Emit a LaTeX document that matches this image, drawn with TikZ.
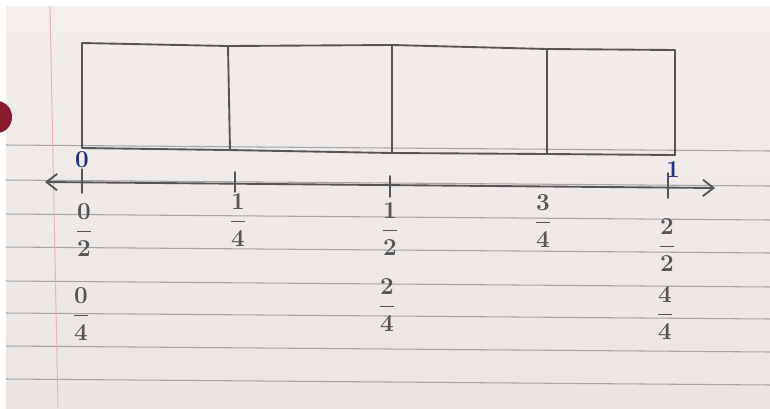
\documentclass[tikz,border=0pt]{standalone}
\usepackage{amsmath}
\usetikzlibrary{arrows.meta}
\definecolor{paper}{HTML}{E9E6E4}
\definecolor{paperlight}{HTML}{F1EEEC}
\definecolor{pencil}{HTML}{555555}
\definecolor{ruling}{HTML}{A5A5A7}
\definecolor{margin}{HTML}{EBB0B6}
\definecolor{hole}{HTML}{8A1A2E}
\definecolor{ink}{HTML}{25307E}
\tikzset{
  pen/.style={pencil,line width=1.6pt,line cap=round,line join=round},
  frac/.style={text=pencil,font=\huge\boldmath,inner sep=1pt},
  mark0/.style={text=ink,font=\huge\bfseries,inner sep=0pt}
}
\begin{document}
\begin{tikzpicture}[x=0.03cm,y=-0.03cm]
  \useasboundingbox (0,0) rectangle (770,408);
  % papier
  \fill[white] (0,0) rectangle (770,408);
  \shade[top color=paperlight,bottom color=paper] (6,6) rectangle (770,408);
  % lignes du cahier
  \foreach \y in {145,180,214,247,281,313,346,379} {
    \draw[ruling,line width=0.9pt] (6,\y) -- (770,\y+6);
  }
  % marge et trou
  \draw[margin,line width=0.8pt] (50,6) -- (58,408);
  \fill[hole] (-3,117) ellipse (15 and 16);
  % rectangle en quatre parts
  \draw[pen] (82,43) -- (228,46) -- (392,45) -- (547,49) -- (675,50)
    -- (675,155) -- (547,154) -- (392,153) -- (228,150) -- (82,148) -- cycle;
  \draw[pen] (228,46) -- (230,150) (392,45) -- (392,153) (547,49) -- (547,154);
  % droite graduee
  \coordinate (L) at (45,182);
  \coordinate (R) at (715,188);
  \draw[pen,{Straight Barb[length=9pt,width=14pt]}-{Straight Barb[length=9pt,width=14pt]}] (L) -- (R);
  \coordinate (t0) at (82,183);
  \coordinate (t1) at (235,184);
  \coordinate (t2) at (390,186);
  \coordinate (t4) at (668,187);
  \foreach \t/\a/\b in {t0/-14/10,t1/-12/8,t2/-10/11,t4/-14/11} {
    \draw[pen] (\t) ++(0,\a) -- ++(0,-\a+\b);
  }
  \node[mark0] (zero) at (82,160) {0};
  \node[mark0] (one) at (673,170) {1};
  % fractions
  \node[frac] (f02) at (84,230) {$\dfrac{0}{2}$};
  \node[frac] (f04) at (81,314) {$\dfrac{0}{4}$};
  \node[frac] (f14) at (238,220) {$\dfrac{1}{4}$};
  \node[frac] (f12) at (390,229) {$\dfrac{1}{2}$};
  \node[frac] (f24) at (387,305) {$\dfrac{2}{4}$};
  \node[frac] (f34) at (543,221) {$\dfrac{3}{4}$};
  \node[frac] (f22) at (667,245) {$\dfrac{2}{2}$};
  \node[frac] (f44) at (665,313) {$\dfrac{4}{4}$};
\end{tikzpicture}
\end{document}
